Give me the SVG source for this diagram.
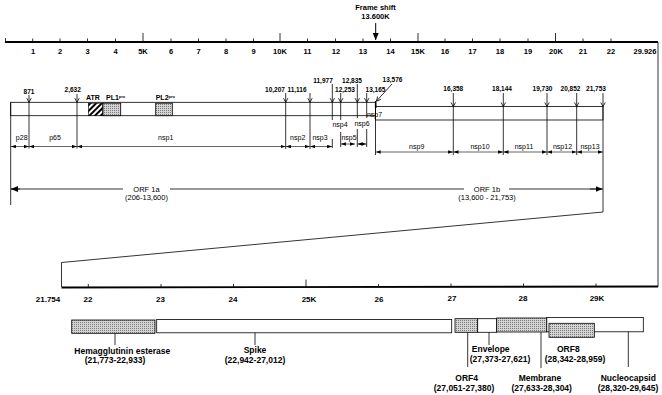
<svg xmlns="http://www.w3.org/2000/svg" width="662" height="395" viewBox="0 0 662 395">
<style>
text{font-family:"Liberation Sans",Arial,sans-serif;fill:#000;text-anchor:middle}
.ax{font-size:7.5px;font-weight:bold}
.num{font-size:6.5px;font-weight:bold}
.nsp{font-size:7px}
.orf{font-size:7.5px}
.lbl{font-size:8.5px;font-weight:bold}
.ln{stroke:#000;stroke-width:0.8;fill:none}
.thk{stroke:#000;stroke-width:1.8;fill:none}
.cl{stroke:#000;stroke-width:0.8;fill:none;marker-end:url(#v)}
.rg{stroke:#000;stroke-width:0.6;fill:none;marker-start:url(#r);marker-end:url(#r)}
.box{stroke:#000;stroke-width:0.8;fill:#fff}
.st{stroke:#000;stroke-width:0.8;fill:url(#stip)}
</style>
<defs>
<pattern id="stip" width="2" height="2" patternUnits="userSpaceOnUse"><rect width="2" height="2" fill="#d4d4d4"/><rect width="1" height="1" fill="#7a7a7a"/></pattern>
<pattern id="hatch" width="4" height="4" patternUnits="userSpaceOnUse" patternTransform="rotate(45)"><rect width="4" height="4" fill="#fff"/><rect width="2" height="4" fill="#000"/></pattern>
<marker id="v" markerUnits="userSpaceOnUse" markerWidth="6" markerHeight="6" viewBox="0 0 6 6" refX="5.6" refY="3" orient="auto"><path d="M1.5,0.8 L5.6,3 L1.5,5.2" fill="none" stroke="#000" stroke-width="0.8"/></marker>
<marker id="r" markerUnits="userSpaceOnUse" markerWidth="5" markerHeight="4" viewBox="0 0 5 4" refX="5" refY="2" orient="auto-start-reverse"><path d="M0,0.3 L5,2 L0,3.7 z" fill="#000"/></marker>
<marker id="big" markerUnits="userSpaceOnUse" markerWidth="7" markerHeight="6" viewBox="0 0 7 6" refX="7" refY="3" orient="auto-start-reverse"><path d="M0,0 L7,3 L0,6 z" fill="#000"/></marker>
</defs>

<g id="top-axis">
<line class="thk" x1="5" y1="42" x2="658" y2="42"/>
<path class="ln" d="M5.5,38V42 M32.7,38.5V42 M60,38.5V42 M87.5,38.5V42 M115.5,38.5V42 M143,33V42 M171,38.5V42 M198.5,38.5V42 M226,38.5V42 M253.5,38.5V42 M280,33V42 M307.5,38.5V42 M335.5,38.5V42 M363,38.5V42 M390.5,38.5V42 M418,33V42 M445,38.5V42 M472.5,38.5V42 M500,38.5V42 M528,38.5V42 M555.5,33V42 M583,38.5V42 M611,38.5V42"/>
<text class="ax" x="33" y="54">1</text>
<text class="ax" x="60" y="54">2</text>
<text class="ax" x="87.5" y="54">3</text>
<text class="ax" x="115.5" y="54">4</text>
<text class="ax" x="143" y="54">5K</text>
<text class="ax" x="171" y="54">6</text>
<text class="ax" x="198.5" y="54">7</text>
<text class="ax" x="226" y="54">8</text>
<text class="ax" x="253.5" y="54">9</text>
<text class="ax" x="280" y="54">10K</text>
<text class="ax" x="307.5" y="54">11</text>
<text class="ax" x="336" y="54">12</text>
<text class="ax" x="363" y="54">13</text>
<text class="ax" x="390.5" y="54">14</text>
<text class="ax" x="418" y="54">15K</text>
<text class="ax" x="445" y="54">16</text>
<text class="ax" x="472.5" y="54">17</text>
<text class="ax" x="500" y="54">18</text>
<text class="ax" x="528" y="54">19</text>
<text class="ax" x="556" y="54">20K</text>
<text class="ax" x="583" y="54">21</text>
<text class="ax" x="611" y="54">22</text>
<text class="ax" x="645" y="54">29.926</text>
</g>

<g id="frame-shift">
<text class="ax" x="375.5" y="10">Frame shift</text>
<text class="ax" x="375.5" y="19">13.600K</text>
<line x1="375.7" y1="23" x2="375.7" y2="40" stroke="#000" stroke-width="1" marker-end="url(#big)"/>
</g>

<g id="orf1-box">
<rect class="box" x="10.7" y="102.3" width="364.8" height="13.4"/>
<rect class="box" x="375.5" y="106.6" width="227.5" height="13.4"/>
<line x1="375.7" y1="101" x2="375.7" y2="108" stroke="#000" stroke-width="1.6"/>
<rect x="88.3" y="103.2" width="14.4" height="12.5" fill="url(#hatch)" stroke="#000" stroke-width="0.6"/>
<rect class="st" x="103" y="103.2" width="17.7" height="12.5" stroke-width="0.5"/>
<rect class="st" x="155.7" y="103.2" width="16.6" height="12.5" stroke-width="0.5"/>
<text class="num" x="93" y="100" style="font-size:7px">ATR</text>
<text class="num" x="106" y="100" style="font-size:7px;text-anchor:start">PL1<tspan dy="-2.5" style="font-size:4px">pro</tspan></text>
<text class="num" x="155.7" y="100" style="font-size:7px;text-anchor:start">PL2<tspan dy="-2.5" style="font-size:4px">pro</tspan></text>
</g>

<g id="cleavage-sites">
<text class="num" x="29" y="93.5">871</text>
<text class="num" x="72.7" y="92">2,632</text>
<text class="num" x="275" y="91.5">10,207</text>
<text class="num" x="297" y="91.5">11,116</text>
<text class="num" x="323" y="82.5">11,977</text>
<text class="num" x="345" y="91.5">12,253</text>
<text class="num" x="352" y="82.5">12,835</text>
<text class="num" x="375.5" y="91.5">13,165</text>
<text class="num" x="392.5" y="82">13,576</text>
<text class="num" x="453.3" y="90.5">16,358</text>
<text class="num" x="502" y="90.5">18,144</text>
<text class="num" x="542.5" y="90.5">19,730</text>
<text class="num" x="570.5" y="90.5">20,852</text>
<text class="num" x="596" y="90.5">21,753</text>
<path class="cl" d="M29,95V102.3"/>
<path class="cl" d="M77,94V102.3"/>
<path class="cl" d="M285.7,93V102.3"/>
<path class="cl" d="M310,93V102.3"/>
<path class="cl" d="M332.3,84V102.3"/>
<path class="cl" d="M340.7,93V102.3"/>
<path class="cl" d="M357.3,84V102.3"/>
<path class="cl" d="M366.7,93V102.3"/>
<path class="cl" d="M392,84L376.5,101"/>
<path class="cl" d="M453.3,93V106.6"/>
<path class="cl" d="M503.3,93V106.6"/>
<path class="cl" d="M547,93V106.6"/>
<path class="cl" d="M576.7,93V106.6"/>
<path class="cl" d="M603,93V106.6"/>
</g>

<g id="connectors">
<path class="ln" d="M10.7,102.3V205 M29,102.3V148.5 M77,102.3V148.5 M285.7,102.3V149 M310,102.3V149 M332.3,102.3V120 M332.3,139V148 M340.7,102.3V120 M340.7,132V147 M357.3,102.3V118 M357.3,129V147 M366.7,102.3V118 M366.7,129V147 M375.5,106.6V155 M453.3,106.6V155 M503.3,106.6V155 M547,106.6V155 M576.7,106.6V155 M603,106.6V212"/>
<path class="ln" d="M658,42V287"/>
<path class="ln" d="M603,212L61.5,262.5V287"/>
</g>

<g id="protein-ranges">
<path class="rg" d="M10.9,146.5H28.8"/>
<path class="rg" d="M29.2,146.5H76.8"/>
<path class="rg" d="M77.2,146.5H285.5"/>
<path class="rg" d="M285.9,146.5H309.8"/>
<path class="rg" d="M310.2,146.5H332.1"/>
<path class="rg" d="M340.9,144H355"/>
<path class="rg" d="M357.5,144H366.5"/>
<path class="rg" d="M375.7,152H453.1"/>
<path class="rg" d="M453.5,152H503.1"/>
<path class="rg" d="M503.5,152H546.8"/>
<path class="rg" d="M547.2,152H576.5"/>
<path class="rg" d="M576.9,152H602.8"/>
<text class="nsp" x="21.7" y="140">p28</text>
<text class="nsp" x="55" y="140">p65</text>
<text class="nsp" x="165.7" y="140">nsp1</text>
<text class="nsp" x="297.7" y="139.5">nsp2</text>
<text class="nsp" x="320" y="139.5">nsp3</text>
<text class="nsp" x="340" y="126.5">nsp4</text>
<text class="nsp" x="349" y="139.5">nsp5</text>
<text class="nsp" x="362" y="125.5">nsp6</text>
<text class="nsp" x="374.5" y="116.5">nsp7</text>
<text class="nsp" x="416.7" y="148.5">nsp9</text>
<text class="nsp" x="480" y="148.5">nsp10</text>
<text class="nsp" x="524" y="148.5">nsp11</text>
<text class="nsp" x="562.5" y="148.5">nsp12</text>
<text class="nsp" x="590" y="148.5">nsp13</text>
</g>

<g id="orf1a-orf1b">
<path class="ln" d="M11,189H123 M170,189H464 M509,189H602.5"/>
<path d="M20,189H11" class="ln" marker-end="url(#big)"/>
<path d="M590,189H602.5" class="ln" marker-end="url(#big)"/>
<text class="orf" x="146.5" y="191.5">ORF 1a</text>
<text class="orf" x="146.5" y="200">(206-13,600)</text>
<text class="orf" x="487" y="191.5">ORF 1b</text>
<text class="orf" x="487" y="200">(13,600 - 21,753)</text>
</g>

<g id="bottom-axis">
<line class="thk" x1="61.5" y1="287.5" x2="658" y2="286.5"/>
<path class="ln" d="M88.3,284V287.5 M161,284V287.5 M233.5,284V287.5 M306,279.5V287 M378.5,284V287 M451,283.5V287 M523.5,283.5V287 M596,283.5V287"/>
<text class="ax" x="48" y="302" style="font-size:8px">21.754</text>
<text class="ax" x="88" y="302" style="font-size:8px">22</text>
<text class="ax" x="160.5" y="302" style="font-size:8px">23</text>
<text class="ax" x="233" y="301.5" style="font-size:8px">24</text>
<text class="ax" x="309" y="301.5" style="font-size:8px">25K</text>
<text class="ax" x="379" y="301.5" style="font-size:8px">26</text>
<text class="ax" x="452" y="301" style="font-size:8px">27</text>
<text class="ax" x="523" y="301" style="font-size:8px">28</text>
<text class="ax" x="597" y="301" style="font-size:8px">29K</text>
</g>

<g id="gene-HE">
<rect class="st" x="71.7" y="320" width="83.3" height="13.3"/>
<path class="ln" d="M115,333.3V345"/>
<text class="lbl" x="122.3" y="353.5">Hemagglutinin esterase</text>
<text class="lbl" x="115" y="363">(21,773-22,933)</text>
</g>
<g id="gene-spike">
<rect class="box" x="156.7" y="319.5" width="295" height="13.3"/>
<path class="ln" d="M255,332.8V345"/>
<text class="lbl" x="255" y="353">Spike</text>
<text class="lbl" x="255" y="363">(22,942-27,012)</text>
</g>
<g id="gene-ORF4">
<rect class="st" x="455" y="318.7" width="22.7" height="13.6"/>
<path class="ln" d="M467.7,332.3V367"/>
<text class="lbl" x="466.7" y="381">ORF4</text>
<text class="lbl" x="464" y="391">(27,051-27,380)</text>
</g>
<g id="gene-envelope">
<rect class="box" x="477.7" y="318.7" width="19" height="13.6"/>
<path class="ln" d="M489,332.3V345"/>
<text class="lbl" x="490.7" y="352">Envelope</text>
<text class="lbl" x="500" y="362">(27,373-27,621)</text>
</g>
<g id="gene-nucleocapsid">
<rect class="box" x="546.7" y="317.5" width="96.6" height="14.3"/>
<path class="ln" d="M628.3,331.8V367"/>
<text class="lbl" x="628.3" y="381">Nucleocapsid</text>
<text class="lbl" x="628" y="391">(28,320-29,645)</text>
</g>
<g id="gene-membrane">
<rect class="st" x="496.7" y="318" width="50" height="14"/>
<path class="ln" d="M541,332V368"/>
<text class="lbl" x="540" y="381">Membrane</text>
<text class="lbl" x="541.7" y="391">(27,633-28,304)</text>
</g>
<g id="gene-ORF8">
<rect class="st" x="549" y="323.3" width="45.3" height="14"/>
<text class="lbl" x="568.3" y="351.5">ORF8</text>
<text class="lbl" x="575" y="362">(28,342-28,959)</text>
</g>
</svg>
